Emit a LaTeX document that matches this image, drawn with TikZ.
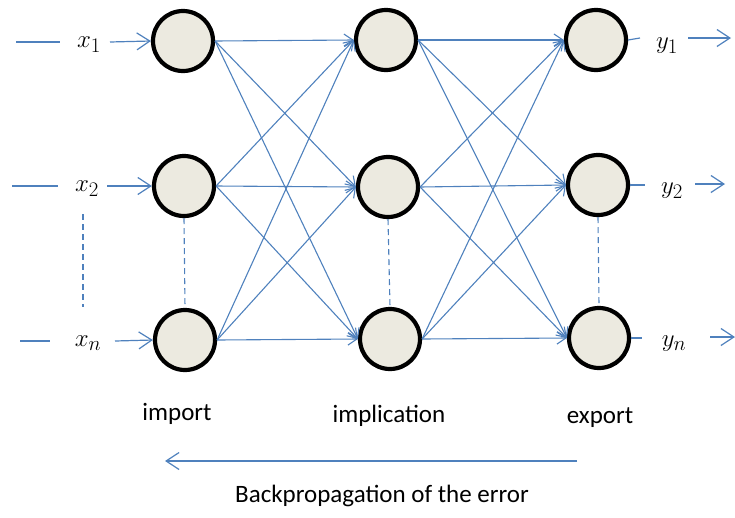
\documentclass[tikz,border=0pt]{standalone}
\usepackage{fontspec}
\setmainfont{Carlito}
\usetikzlibrary{arrows.meta}
\definecolor{lineblue}{RGB}{79,129,189}
\definecolor{nodefill}{RGB}{236,234,224}
\begin{document}
\begin{tikzpicture}[x=1pt,y=-1pt,
  neuron/.style={circle,draw=black,line width=4.2pt,fill=nodefill,minimum size=60pt,inner sep=0pt},
  conn/.style={draw=lineblue,line width=1.1pt,-{Straight Barb[length=9pt,width=12pt,line width=1.1pt]}},
  bigarrow/.style={draw=lineblue,line width=1.2pt,-{Straight Barb[length=13pt,width=17pt,line width=1.2pt]}},
  plain/.style={draw=lineblue,line width=1.2pt},
  dashline/.style={draw=lineblue,line width=1.1pt,dash pattern=on 6pt off 4pt},
  mlabel/.style={font=\fontsize{29}{32}\selectfont,inner sep=0pt},
  tlabel/.style={font=\fontsize{25}{28}\selectfont,inner sep=0pt}]
\useasboundingbox (0,0) rectangle (735,517);
% neurons
\node[neuron] (a1) at (183,41) {};
\node[neuron] (a2) at (184,186) {};
\node[neuron] (a3) at (185,340) {};
\node[neuron] (b1) at (386,40) {};
\node[neuron] (b2) at (388,187) {};
\node[neuron] (b3) at (390,339) {};
\node[neuron] (c1) at (596,40) {};
\node[neuron] (c2) at (598,185) {};
\node[neuron] (c3) at (599,338) {};
% full connections
\foreach \s in {a1,a2,a3}{\foreach \t in {b1,b2,b3}{\draw[conn] (\s.east) -- (\t.west);}}
\foreach \s in {b1,b2,b3}{\foreach \t in {c1,c2,c3}{\draw[conn] (\s.east) -- (\t.west);}}
% dashed links between neurons
\draw[dashline] (a2.south) -- (a3.north);
\draw[dashline] (b2.south) -- (b3.north);
\draw[dashline] (c2.south) -- (c3.north);
% inputs
\node[mlabel] (x1) at (89,45) {$x_1$};
\node[mlabel] (x2) at (87,189) {$x_2$};
\node[mlabel] (xn) at (88,343) {$x_n$};
\coordinate (i1) at (16,42); \coordinate (i1e) at (60,42);
\coordinate (i2) at (12,186); \coordinate (i2e) at (58,186);
\coordinate (i3) at (20,341); \coordinate (i3e) at (50,341);
\draw[plain] (i1) -- (i1e);
\draw[plain] (i2) -- (i2e);
\draw[plain] (i3) -- (i3e);
\coordinate (s1) at (110,42); \coordinate (s2) at (107,186); \coordinate (s3) at (115,341);
\draw[bigarrow] (s1) -- (a1.west);
\draw[bigarrow] (s2) -- (a2.west);
\draw[bigarrow] (s3) -- (a3.west);
\coordinate (dt) at (83,214); \coordinate (db) at (83,307);
\draw[dashline] (dt) -- (db);
% outputs
\coordinate (o1) at (640,38); \coordinate (o2) at (645,185); \coordinate (o3) at (642,338);
\draw[plain] (c1.east) -- (o1);
\draw[plain] (c2.east) -- (o2);
\draw[plain] (c3.east) -- (o3);
\node[mlabel] (y1) at (667,46) {$y_1$};
\node[mlabel] (y2) at (672,191) {$y_2$};
\node[mlabel] (yn) at (674,344) {$y_n$};
\coordinate (p1s) at (688,38); \coordinate (p1e) at (731,38);
\coordinate (p2s) at (695,184); \coordinate (p2e) at (725,184);
\coordinate (p3s) at (710,337); \coordinate (p3e) at (735,337);
\draw[bigarrow] (p1s) -- (p1e);
\draw[bigarrow] (p2s) -- (p2e);
\draw[bigarrow] (p3s) -- (p3e);
% layer labels
\node[tlabel] (limp) at (177,414) {import};
\node[tlabel] (limpl) at (389,416) {implication};
\node[tlabel] (lexp) at (600,418) {export};
% backpropagation
\coordinate (bs) at (577,461); \coordinate (be) at (165,461);
\draw[bigarrow] (bs) -- (be);
\node[tlabel] (bp) at (382,496) {Backpropagation of the error};
\end{tikzpicture}
\end{document}
